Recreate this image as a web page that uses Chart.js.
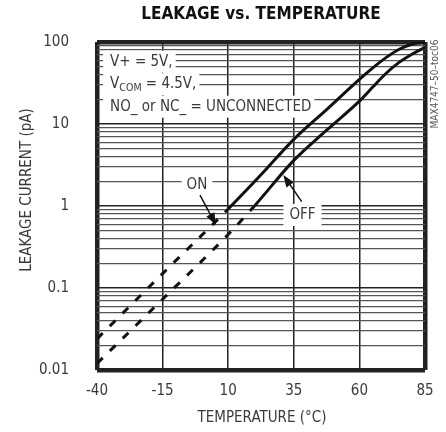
<!DOCTYPE html>
<html>
<head>
<meta charset="utf-8">
<script src="https://cdn.jsdelivr.net/npm/chart.js@4"></script>
<style>
  html, body { margin: 0; padding: 0; background: #fff; }
  canvas { display: block; }
</style>
</head>
<body>
<canvas id="c" width="446" height="432"></canvas>
<script>
// ---- data ----
const X_TICKS = [-40, -15, 10, 35, 60, 85];
const Y_TICKS = [0.01, 0.1, 1, 10, 100];
const Y_TICK_LABELS = ['0.01', '0.1', '1', '10', '100'];

const ON_TEMPS  = [-40, -15, 10, 22.5, 35, 47.5, 60, 65, 70, 75, 80, 85];
const ON_PA     = [0.024, 0.15, 0.92, 2.4, 6.5, 15, 35, 48, 64, 81, 94, 99];
const OFF_TEMPS = [-40, -15, 10, 20, 35, 47.5, 60, 65, 70, 75, 80, 85];
const OFF_PA    = [0.012, 0.073, 0.45, 1.0, 3.6, 8.4, 19, 28, 41, 56, 71, 86];

const ON_DASH_END = 10;   // dashed (extrapolated) below this temperature
const OFF_DASH_END = 20;

const TITLE = 'LEAKAGE vs. TEMPERATURE';
const X_TITLE = 'TEMPERATURE (°C)';
const Y_TITLE = 'LEAKAGE CURRENT (pA)';
const SIDE_TEXT = 'MAX4747–50–toc06';

const FONT = '"Liberation Sans Narrow", "DejaVu Sans Condensed", "Roboto Condensed", "Liberation Sans", sans-serif';
const TEXT_COLOR = '#3a3a3a';

// minor grid values 1..9 per decade
const yGridValues = [];
for (let i = 0; i < Y_TICKS.length - 1; i++) {
  for (let m = 1; m <= 9; m++) yGridValues.push(+(Y_TICKS[i] * m).toPrecision(6));
}
yGridValues.push(Y_TICKS[Y_TICKS.length - 1]);

function isDecade(v) {
  return Y_TICKS.findIndex(t => Math.abs(Math.log10(v) - Math.log10(t)) < 1e-6);
}

function pts(xs, ys) { return xs.map((x, i) => ({ x, y: ys[i] })); }

const DASH = [8, 10];

const notesPlugin = {
  id: 'notes',
  beforeDatasetsDraw(chart) {
    const { ctx, scales: { x, y } } = chart;
    ctx.save();
    ctx.textBaseline = 'middle';
    ctx.textAlign = 'left';

    // condition text block
    const left = x.getPixelForValue(-35);
    let cy = y.getPixelForValue(57.5);
    const lines = [
      [{ t: 'V+ = 5V,' }],
      [{ t: 'V' }, { t: 'COM', sub: true }, { t: ' = 4.5V,' }],
      [{ t: 'NO_ or NC_ = UNCONNECTED' }]
    ];
    const main = '15px ' + FONT, sub = '10.5px ' + FONT;
    lines.forEach(parts => {
      let w = 0;
      parts.forEach(p => { ctx.font = p.sub ? sub : main; w += ctx.measureText(p.t).width; });
      ctx.fillStyle = '#fff';
      ctx.fillRect(left - 7, cy - 11, w + 10, 22);
      let px = left;
      parts.forEach(p => {
        ctx.font = p.sub ? sub : main;
        ctx.fillStyle = TEXT_COLOR;
        ctx.fillText(p.t, px, p.sub ? cy + 4 : cy);
        px += ctx.measureText(p.t).width;
      });
      cy += 22.5;
    });

    // ON / OFF labels
    const label = (txt, tx, ty, padX, h) => {
      ctx.font = '15px ' + FONT;
      const px = x.getPixelForValue(tx), py = y.getPixelForValue(ty);
      const w = ctx.measureText(txt).width;
      ctx.fillStyle = '#fff';
      ctx.fillRect(px - w / 2 - padX, py - h / 2, w + 2 * padX, h);
      ctx.fillStyle = TEXT_COLOR;
      ctx.textAlign = 'center';
      ctx.fillText(txt, px, py);
    };
    label('ON', -1.9, 1.8, 5, 20);
    label('OFF', 38.3, 0.776, 6, 22);
    ctx.restore();
  },
  afterDatasetsDraw(chart) {
    const { ctx, scales: { x, y } } = chart;
    const arrow = (t0, v0, t1, v1) => {
      const x0 = x.getPixelForValue(t0), y0 = y.getPixelForValue(v0);
      const x1 = x.getPixelForValue(t1), y1 = y.getPixelForValue(v1);
      const a = Math.atan2(y1 - y0, x1 - x0);
      const L = 12, W = 4.5;
      ctx.save();
      ctx.strokeStyle = '#111';
      ctx.fillStyle = '#111';
      ctx.lineWidth = 1.5;
      ctx.beginPath();
      ctx.moveTo(x0, y0);
      ctx.lineTo(x1 - Math.cos(a) * L * 0.8, y1 - Math.sin(a) * L * 0.8);
      ctx.stroke();
      ctx.beginPath();
      ctx.moveTo(x1, y1);
      ctx.lineTo(x1 - Math.cos(a) * L - Math.sin(a) * W, y1 - Math.sin(a) * L + Math.cos(a) * W);
      ctx.lineTo(x1 - Math.cos(a) * L + Math.sin(a) * W, y1 - Math.sin(a) * L - Math.cos(a) * W);
      ctx.closePath();
      ctx.fill();
      ctx.restore();
    };
    arrow(-0.75, 1.36, 5.35, 0.586);
    arrow(38, 1.13, 31, 2.39);
  },
  afterDraw(chart) {
    const { ctx, chartArea: ca } = chart;
    ctx.save();
    ctx.textAlign = 'center';
    ctx.textBaseline = 'middle';
    // title
    ctx.font = 'bold 17px ' + FONT;
    ctx.fillStyle = '#111';
    ctx.fillText(TITLE, (ca.left + ca.right) / 2, 15);
    // x title
    ctx.font = '15px ' + FONT;
    ctx.fillStyle = TEXT_COLOR;
    ctx.fillText(X_TITLE, (ca.left + ca.right) / 2 + 1, ca.bottom + 48);
    // y title
    ctx.save();
    ctx.translate(ca.left - 70, ca.top + 148);
    ctx.rotate(-Math.PI / 2);
    ctx.fillText(Y_TITLE, 0, 0);
    ctx.restore();
    // side text
    ctx.save();
    ctx.translate(ca.right + 10, ca.top + 42);
    ctx.rotate(-Math.PI / 2);
    ctx.font = '10px ' + FONT;
    ctx.fillStyle = '#555';
    ctx.fillText(SIDE_TEXT, 0, 0);
    ctx.restore();
    ctx.restore();
  }
};

new Chart(document.getElementById('c'), {
  type: 'line',
  data: {
    datasets: [
      {
        label: 'ON',
        data: pts(ON_TEMPS, ON_PA),
        borderColor: '#111',
        borderWidth: 3,
        pointRadius: 0,
        cubicInterpolationMode: 'monotone',
        segment: { borderDash: c => (c.p1.parsed.x <= ON_DASH_END ? DASH : undefined) }
      },
      {
        label: 'OFF',
        data: pts(OFF_TEMPS, OFF_PA),
        borderColor: '#111',
        borderWidth: 3,
        pointRadius: 0,
        cubicInterpolationMode: 'monotone',
        segment: { borderDash: c => (c.p1.parsed.x <= OFF_DASH_END ? DASH : undefined) }
      }
    ]
  },
  options: {
    responsive: false,
    animation: false,
    events: [],
    layout: { padding: { top: 42, right: 21, left: 0, bottom: 0 } },
    plugins: { legend: { display: false }, tooltip: { enabled: false }, title: { display: false } },
    scales: {
      x: {
        type: 'linear',
        min: X_TICKS[0],
        max: X_TICKS[X_TICKS.length - 1],
        afterBuildTicks: s => { s.ticks = X_TICKS.map(v => ({ value: v })); },
        afterFit: s => { s.height = 62; },
        ticks: { padding: 12, autoSkip: false, maxRotation: 0, color: TEXT_COLOR, font: { family: FONT, size: 15 } },
        grid: {
          drawTicks: false,
          color: '#222',
          lineWidth: c => (c.tick && (c.tick.value === X_TICKS[0] || c.tick.value === X_TICKS[X_TICKS.length - 1]) ? 4.5 : 1.5)
        },
        border: { display: false }
      },
      y: {
        type: 'logarithmic',
        min: Y_TICKS[0],
        max: Y_TICKS[Y_TICKS.length - 1],
        afterBuildTicks: s => { s.ticks = yGridValues.map(v => ({ value: v })); },
        afterFit: s => { s.width = 97; },
        ticks: {
          padding: 28,
          autoSkip: false,
          color: TEXT_COLOR,
          font: { family: FONT, size: 15 },
          callback: v => { const i = isDecade(v); return i >= 0 ? Y_TICK_LABELS[i] : ''; }
        },
        grid: {
          drawTicks: false,
          color: c => (c.tick && isDecade(c.tick.value) >= 0 ? '#222' : '#555'),
          lineWidth: c => {
            if (!c.tick) return 1;
            const v = c.tick.value;
            if (isDecade(v) === 0 || isDecade(v) === Y_TICKS.length - 1) return 4.5;
            return isDecade(v) >= 0 ? 1.5 : 1.2;
          }
        },
        border: { display: false }
      }
    }
  },
  plugins: [notesPlugin]
});
</script>
</body>
</html>
